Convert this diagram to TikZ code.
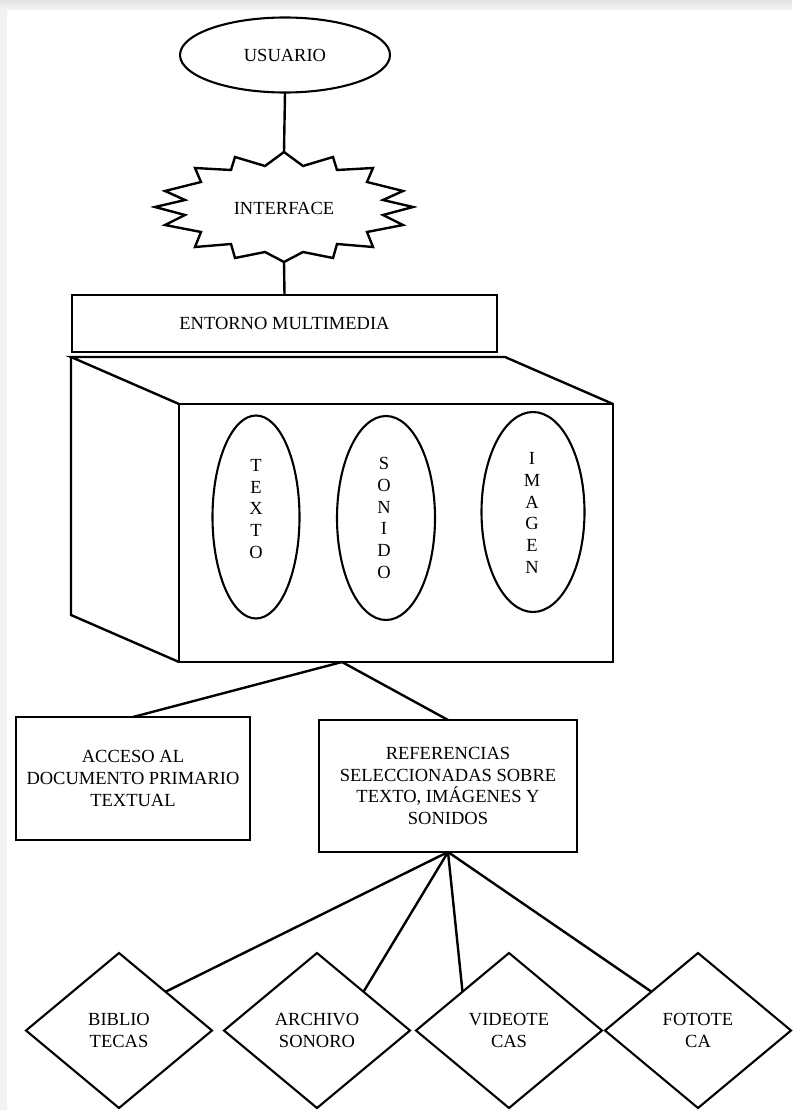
\documentclass[tikz,border=0pt]{standalone}
\usepackage{fontspec}
\setmainfont{Liberation Serif}
\usetikzlibrary{shapes.geometric,calc}
\begin{document}
\begin{tikzpicture}[x=1pt,y=-1pt,
  every node/.style={font=\fontsize{18.5}{21.7}\selectfont, inner sep=0pt, outer sep=0pt},
  box/.style={draw, line width=2.4pt, rectangle, align=center},
  oval/.style={draw, line width=2.1pt, ellipse},
  rhomb/.style={draw, line width=2.1pt, diamond, align=center,
                minimum width=186pt, minimum height=155pt},
  link/.style={line width=2.4pt},
  face/.style={draw, line width=2.4pt, line join=miter}
]
% page with a light grey frame on the top and left
\fill[gray!10] (0,0) rectangle (792,1110);
\shade[top color=gray!22, bottom color=gray!8] (0,0) rectangle (792,10);
\fill[white] (7,10) rectangle (792,1110);
\useasboundingbox (0,0) rectangle (792,1110);

% user
\node[oval, minimum width=210pt, minimum height=75pt] (user) at (285,55) {USUARIO};

% interface burst
\draw[line width=2.4pt, line join=miter]
  (284,152) coordinate (ifTop) -- (303,166) -- (333,157) -- (337,170) -- (373,168)
  -- (367,182) -- (403,191) -- (383,200) -- (413,207) -- (383,215) -- (403,225)
  -- (367,232) -- (373,247) -- (337,244) -- (333,258) -- (303,252)
  -- (284,262) coordinate (ifBot)
  -- (265,252) -- (235,258) -- (231,244) -- (195,247) -- (201,232) -- (165,225)
  -- (185,215) -- (155,207) -- (185,200) -- (165,191) -- (201,182) -- (195,168)
  -- (231,170) -- (235,157) -- (265,166) -- cycle;
\node (iface) at (284,208) {INTERFACE};

% multimedia environment
\node[box, minimum width=425pt, minimum height=57pt] (env) at (284.5,323.5) {ENTORNO MULTIMEDIA};

% box in perspective
\node[box, minimum width=434pt, minimum height=258pt] (front) at (396,533) {};
\draw[face] (front.north west) -- (71,357) -- (505,357) -- (front.north east);
\draw[face] (71,357) -- (71,615) -- (front.south west);

% media inside the box
\node[oval, minimum width=87pt, minimum height=203pt] (texto) at (256,517) {};
\node[oval, minimum width=98pt, minimum height=204pt] (sonido) at (386,518) {};
\node[oval, minimum width=103pt, minimum height=200pt] (imagen) at (533,512) {};
\node[align=center] (textoLbl) at (256,509) {T\\E\\X\\T\\O};
\node[align=center] (sonidoLbl) at (384,518) {S\\O\\N\\I\\D\\O};
\node[align=center] (imagenLbl) at (532,513) {I\\M\\A\\G\\E\\N};

% second level
\coordinate (split) at (342,662);
\node[box, minimum width=234pt, minimum height=123pt] (acc) at (133,778.5)
  {ACCESO AL\\DOCUMENTO PRIMARIO\\TEXTUAL};
\node[box, minimum width=258pt, minimum height=132pt] (ref) at (448,786)
  {REFERENCIAS\\SELECCIONADAS SOBRE\\TEXTO, IMÁGENES Y\\SONIDOS};

% collections
\node[rhomb] (bib) at (119,1030.5) {BIBLIO\\TECAS};
\node[rhomb] (arc) at (317,1030.5) {ARCHIVO\\SONORO};
\node[rhomb] (vid) at (509,1030.5) {VIDEOTE\\CAS};
\node[rhomb] (fot) at (698,1030.5) {FOTOTE\\CA};

% connectors
\draw[link] (user.south) -- (ifTop);
\draw[link] (ifBot) -- (env.north);
\draw[link] (split) -- (acc.north);
\draw[link] (split) -- (ref.north);
\draw[link] (ref.south) -- ($(bib.north)!0.5!(bib.east)$);
\draw[link] (ref.south) -- ($(arc.north)!0.5!(arc.east)$);
\draw[link] (ref.south) -- ($(vid.north)!0.5!(vid.west)$);
\draw[link] (ref.south) -- ($(fot.north)!0.5!(fot.west)$);
\end{tikzpicture}
\end{document}
